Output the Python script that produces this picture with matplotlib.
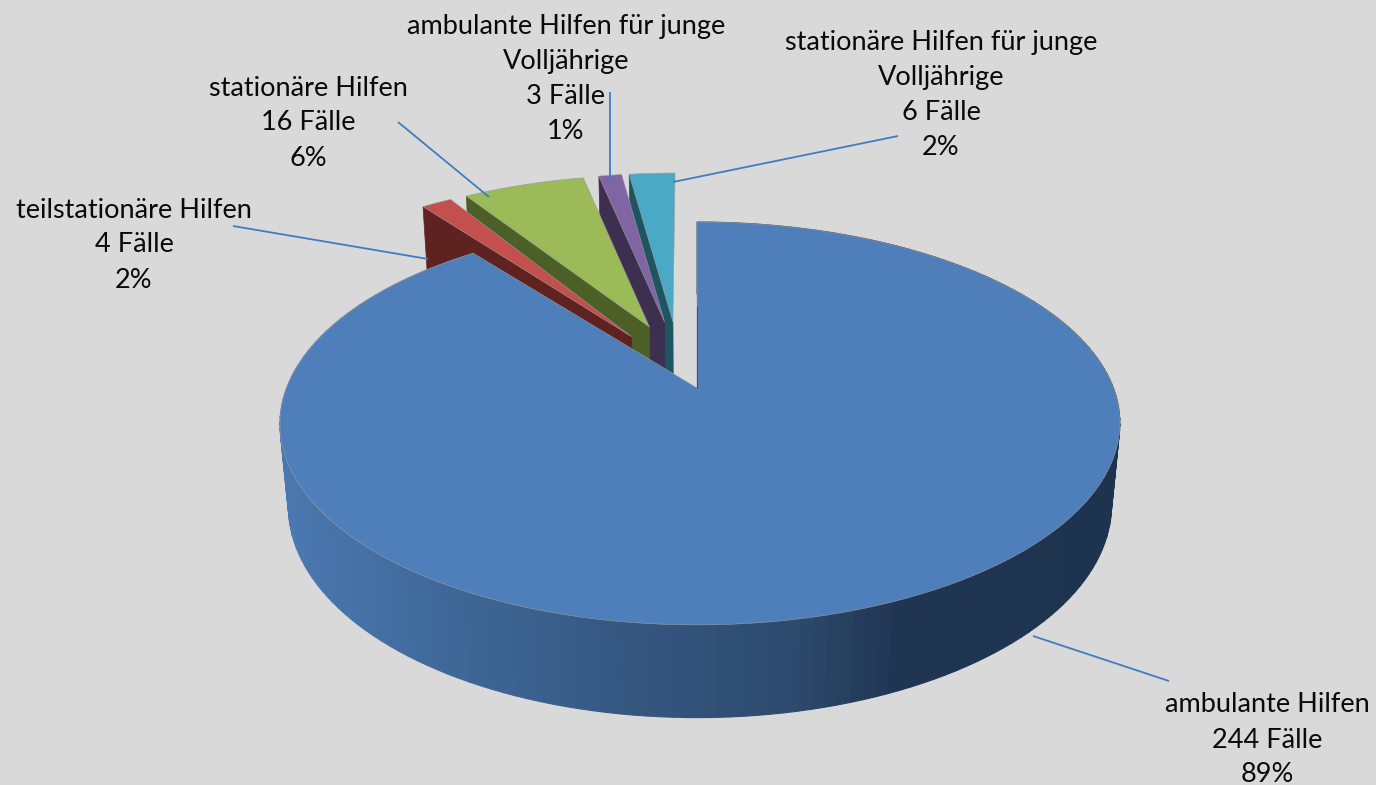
import numpy as np
import matplotlib
matplotlib.use("Agg")
import matplotlib.pyplot as plt

# data
names = ["ambulante Hilfen", "teilstationäre Hilfen", "stationäre Hilfen",
         "ambulante Hilfen für junge\nVolljährige", "stationäre Hilfen für junge\nVolljährige"]
cases = [244, 4, 16, 3, 6]
percent = [89, 2, 6, 1, 2]

top_colors = ["#4f7fbb", "#c4504e", "#9bbb58", "#8064a4", "#4aa9c4"]
side_colors = ["#2c4a6e", "#5e2320", "#4b5f27", "#3d2f50", "#1f5563"]

label_pos = [(1267, 740), (134, 245), (308, 123), (566, 79), (941, 95)]
leaders = [((1033, 636), (1169, 681)), ((233, 226), (428, 259)), ((398, 122), (489, 197)),
           ((610, 92), (610, 182)), ((898, 136), (673, 182))]

# projection of the pie plane, fitted on the picture
X0, Y0 = 697, 388
A, B, K = 195.2, 413.4, 0.176
DEPTH, M = 83, 0.02
MAIN_EXPLODE, SMALL_EXPLODE = 0.155, 0.22
# small correction of where the tips of the small slices end up
tip_du = [0, 0.013, 0.013, 0.005, 0.004]
tip_dv = [0, -0.05, -0.02, -0.003, -0.005]


def project(u, v, low=False):
    s = 1 / (1 + K * v + (M if low else 0))
    # the 3*u**2 moves the widest points of the rim right, apex stays where it is
    return X0 + B * u * s + 3 * u ** 2, Y0 - (A * v - (DEPTH if low else 0)) * s


def main_side_color(x):
    # side of the big slice gets darker from left to right
    xs = [285, 450, 620, 800, 900, 1120]
    reds = [0x4a, 0x3f, 0x35, 0x2c, 0x20, 0x1d]
    greens = [0x78, 0x68, 0x58, 0x49, 0x35, 0x33]
    blues = [0xb0, 0x98, 0x82, 0x6c, 0x52, 0x4e]
    return (np.interp(x, xs, reds) / 255, np.interp(x, xs, greens) / 255, np.interp(x, xs, blues) / 255)


fig = plt.figure(figsize=(13.76, 7.85), dpi=100, facecolor="#d9d9d9")
ax = fig.add_axes([0, 0, 1, 1])
ax.set_xlim(0, 1376)
ax.set_ylim(785, 0)
ax.axis("off")

fractions = np.array(cases) / sum(cases)
edges = np.concatenate([[0], np.cumsum(fractions)]) * 2 * np.pi
mid = (edges[:-1] + edges[1:]) / 2

# main slice is the origin of the projection, the true centre sits opposite to it
cx = -np.sin(mid[0]) * MAIN_EXPLODE
cy = -np.cos(mid[0]) * MAIN_EXPLODE


def draw_slice(i):
    if i == 0:
        ox, oy = 0.0, 0.0
    else:
        ox = cx + np.sin(mid[i]) * SMALL_EXPLODE
        oy = cy + np.cos(mid[i]) * SMALL_EXPLODE
    t = np.linspace(edges[i], edges[i + 1], 200 if i == 0 else 30)
    u = ox + np.sin(t)
    v = oy + np.cos(t)
    # tip of the slice, the rim stays
    tip_u = ox + tip_du[i]
    tip_v = oy + tip_dv[i]

    if i == 0:
        # outer wall, only the big slice shows it
        for j in np.argsort(-v[:-1]):
            xt, yt = project(u[[j, j + 1]], v[[j, j + 1]])
            xb, yb = project(u[[j + 1, j]], v[[j + 1, j]], low=True)
            c = main_side_color(xt.mean())
            ax.fill(np.r_[xt, xb], np.r_[yt, yb], color=c, lw=0.8, zorder=2)
    else:
        # cut face on the start side
        fu = np.array([tip_u, u[0]])
        fv = np.array([tip_v, v[0]])
        xt, yt = project(fu, fv)
        xb, yb = project(fu[::-1], fv[::-1], low=True)
        ax.fill(np.r_[xt, xb], np.r_[yt, yb], color=side_colors[i], lw=0.5, zorder=2)

    # top
    xt, yt = project(np.r_[tip_u, u], np.r_[tip_v, v])
    ax.fill(xt, yt, facecolor=top_colors[i], edgecolor="#9a9a9a", lw=0.4, zorder=2)


for i in [4, 3, 2, 1, 0]:
    draw_slice(i)

# dark edge of the cut at the apex of the big slice
xl, yl = project(np.array([0.0, 0.0]), np.array([0.0, 0.45]))
ax.plot(xl, yl, color=side_colors[0], lw=0.6, zorder=3)

for (p, q) in leaders:
    ax.plot([p[0], q[0]], [p[1], q[1]], color="#3f7cc2", lw=1.3, zorder=5, solid_capstyle="butt")

for i in range(len(names)):
    ax.text(label_pos[i][0], label_pos[i][1], f"{names[i]}\n{cases[i]} Fälle\n{percent[i]}%",
            ha="center", va="center", multialignment="center", family="Lato", fontsize=19.5,
            linespacing=1.5, color="#0a0a0a", zorder=6)

fig.savefig("out.png", dpi=100, facecolor=fig.get_facecolor())
